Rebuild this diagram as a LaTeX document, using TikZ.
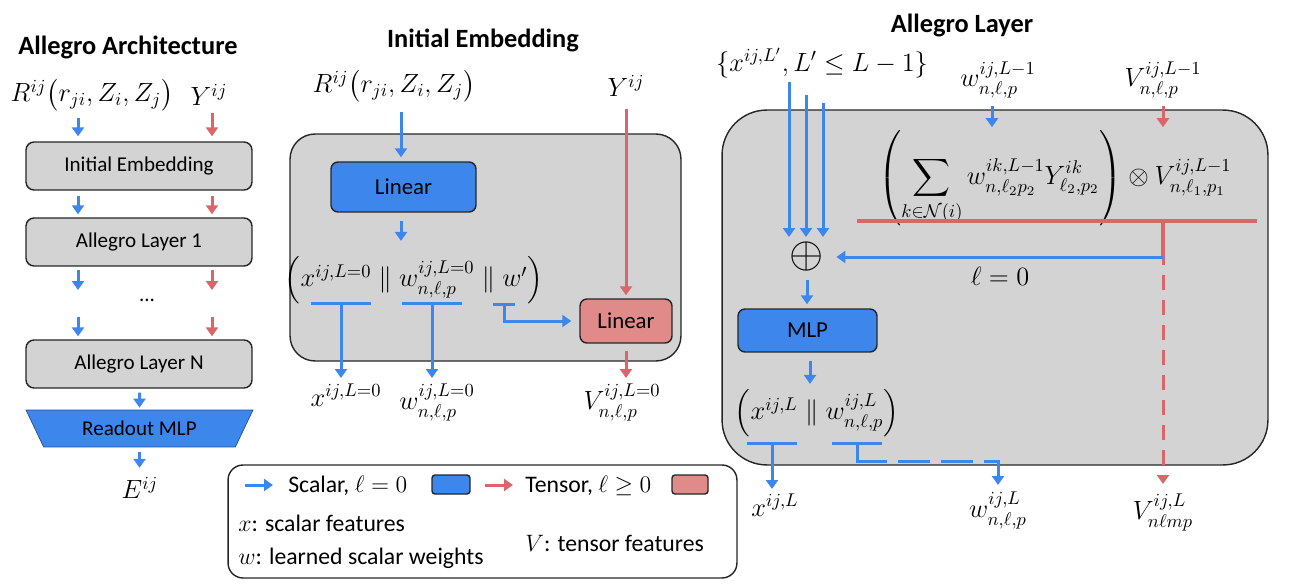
\RequirePackage{fix-cm}
\documentclass[tikz,border=0pt]{standalone}
\usepackage{amsmath,amssymb}
\usepackage{fontspec}
\setmainfont{Carlito}
\usetikzlibrary
  {
    arrows.meta,      % triangle arrow heads
    positioning,      % place nodes relative to other nodes
    shapes.geometric, % trapezium of the readout
  }

\definecolor{scalarblue}{HTML}{3D87EC}
\definecolor{tensorred}{HTML}{D9666A}
\definecolor{linearred}{HTML}{E08A8A}
\definecolor{blockgrey}{HTML}{D3D3D3}
\definecolor{edgegrey}{HTML}{262626}

\begin{document}
\begin{tikzpicture}
    [
      x=0.02cm, y=-0.02cm,
      every node/.style={inner sep=0pt},
      heading/.style={font=\fontsize{15}{18}\selectfont\bfseries},
      quantity/.style={font=\fontsize{15}{18}\selectfont},
      legendtext/.style={font=\fontsize{13.5}{16}\selectfont},
      stage/.style=
        {
          rectangle,
          rounded corners=0.16cm,
          minimum width=4.52cm,
          minimum height=0.96cm,
          draw=edgegrey,
          thick,
          fill=blockgrey,
          font=\fontsize{12}{14}\selectfont,
        },
      block/.style=
        {
          rectangle,
          rounded corners=0.5cm,
          draw=edgegrey,
          thick,
          fill=blockgrey,
        },
      scalarbox/.style=
        {
          rectangle,
          rounded corners=0.14cm,
          draw=edgegrey,
          thick,
          fill=scalarblue,
          font=\fontsize{13}{15}\selectfont,
        },
      tensorbox/.style=
        {
          rectangle,
          rounded corners=0.14cm,
          draw=edgegrey,
          thick,
          fill=linearred,
          font=\fontsize{13}{15}\selectfont,
        },
      readout/.style=
        {
          trapezium,
          trapezium angle=40,
          trapezium stretches body,
          shape border rotate=180,
          minimum width=4.54cm,
          minimum height=0.74cm,
          draw=scalarblue!60!black,
          fill=scalarblue,
          font=\fontsize{12}{14}\selectfont,
        },
      scalar/.style=
        {
          draw=scalarblue,
          line width=0.06cm,
          -{Triangle[length=0.18cm,width=0.24cm]},
        },
      tensor/.style=
        {
          draw=tensorred,
          line width=0.06cm,
          -{Triangle[length=0.18cm,width=0.24cm]},
        },
      scalarbar/.style={draw=scalarblue, line width=0.06cm},
      tensorbar/.style={draw=tensorred, line width=0.07cm},
    ]
    \useasboundingbox (0,0) rectangle (1299,588);

    % overall architecture
    \node (archtitle) [heading] at (128,47) {Allegro Architecture};
    \node (archr) [quantity] at (92,95) {$R^{ij}\bigl(r_{ji},Z_i,Z_j\bigr)$};
    \node (archy) [quantity] at (209,95) {$Y^{ij}$};
    \node (emb) [stage] at (139,166) {Initial Embedding};
    \node (lay1) [stage] at (139,242) {Allegro Layer 1};
    \node (dots) [font=\fontsize{12}{14}\selectfont] at (147,300) {...};
    \node (layN) [stage] at (139,364) {Allegro Layer N};
    \node (mlpout) [readout] at (139.5,428.5) {Readout MLP};
    \node (energy) [quantity] at (140,488) {$E^{ij}$};

    \coordinate (scol) at (78,0);
    \coordinate (tcol) at (212,0);
    \coordinate (dotrow) at (0,303);
    \draw [scalar, shorten <=0.14cm, shorten >=0.1cm] (archr.south -| scol) -- (emb.north -| scol);
    \draw [tensor, shorten <=0.14cm, shorten >=0.1cm] (archy.south -| tcol) -- (emb.north -| tcol);
    \draw [scalar, shorten <=0.1cm, shorten >=0.06cm] (emb.south -| scol) -- (lay1.north -| scol);
    \draw [tensor, shorten <=0.1cm, shorten >=0.06cm] (emb.south -| tcol) -- (lay1.north -| tcol);
    \draw [scalar, shorten <=0.06cm, shorten >=0.26cm] (lay1.south -| scol) -- (dotrow -| scol);
    \draw [tensor, shorten <=0.06cm, shorten >=0.26cm] (lay1.south -| tcol) -- (dotrow -| tcol);
    \draw [scalar, shorten <=0.28cm, shorten >=0.06cm] (dotrow -| scol) -- (layN.north -| scol);
    \draw [tensor, shorten <=0.28cm, shorten >=0.06cm] (dotrow -| tcol) -- (layN.north -| tcol);
    \draw [scalar, shorten <=0.08cm, shorten >=0.04cm] (layN.south -| mlpout) -- (mlpout.north);
    \draw [scalar, shorten <=0.1cm, shorten >=0.18cm] (mlpout.south) -- (mlpout.south |- energy.north);

    % initial embedding
    \node (embtitle) [heading] at (483,40) {Initial Embedding};
    \node (embbox) [block, minimum width=7.82cm, minimum height=4.54cm] at (485.5,247.5) {};
    \node (embr) [quantity] at (394,86) {$R^{ij}\bigl(r_{ji},Z_i,Z_j\bigr)$};
    \node (emby) [quantity] at (626,86) {$Y^{ij}$};
    \node (linscalar) [scalarbox, minimum width=2.9cm, minimum height=1cm] at (403.5,187) {Linear};
    \node (lintensor) [tensorbox, minimum width=1.84cm, minimum height=0.88cm] at (626,321) {Linear};
    \node (embtuple) [quantity] at (414,280)
      {$\left(x^{ij,L=0}\parallel w^{ij,L=0}_{n,\ell,p}\parallel w'\right)$};
    \node (embx) [quantity, anchor=north] at (346,384) {$x^{ij,L=0}$};
    \node (embw) [quantity, anchor=north] at (437,384) {$w^{ij,L=0}_{n,\ell,p}$};
    \node (embv) [quantity, anchor=north] at (622,384) {$V^{ij,L=0}_{n,\ell,p}$};

    \coordinate (rcol) at (401,0);
    \coordinate (embxbar) at (341,303);
    \coordinate (embwbar) at (432,303);
    \coordinate (embpbar) at (504,304);
    \draw [scalar, shorten <=0.2cm, shorten >=0.08cm] (embr.south -| rcol) -- (linscalar.north -| rcol);
    \draw [scalar, shorten <=0.16cm, shorten >=0.3cm] (linscalar.south -| rcol) -- (embtuple.north -| rcol);
    \draw [tensor, shorten <=0.24cm, shorten >=0.06cm] (emby.south -| lintensor) -- (lintensor.north);
    \draw [tensor, shorten <=0.14cm, shorten >=0.12cm] (lintensor.south) -- (embv.north -| lintensor);
    \draw [scalarbar] ([xshift=-0.6cm]embxbar) -- ([xshift=0.6cm]embxbar);
    \draw [scalarbar] ([xshift=-0.6cm]embwbar) -- ([xshift=0.6cm]embwbar);
    \draw [scalarbar] ([xshift=-0.22cm]embpbar) -- ([xshift=0.22cm]embpbar);
    \draw [scalar, shorten >=0.12cm] (embxbar) -- (embxbar |- embx.north);
    \draw [scalar, shorten >=0.12cm] (embwbar) -- (embwbar |- embw.north);
    \draw [scalar, shorten >=0.16cm] (embpbar) |- (lintensor.west);

    % allegro layer
    \node (laytitle) [heading] at (962,25) {Allegro Layer};
    \node (laybox) [block, rounded corners=0.9cm, minimum width=10.92cm, minimum height=7.1cm] at (995,287.5) {};
    \node (xset) [quantity] at (822,63) {$\{x^{ij,L'},L'\leq L-1\}$};
    \node (wprev) [quantity] at (998,80) {$w^{ij,L-1}_{n,\ell,p}$};
    \node (vprev) [quantity] at (1163,80) {$V^{ij,L-1}_{n,\ell,p}$};
    \node (product) [quantity] at (1055,178)
      {$\displaystyle\left(\sum_{k\in\mathcal{N}(i)} w^{ik,L-1}_{n,\ell_2p_2}Y^{ik}_{\ell_2,p_2}\right)\otimes V^{ij,L-1}_{n,\ell_1,p_1}$};
    \node (plus) at (807,257) {\fontsize{25}{25}\selectfont$\oplus$};
    \node (zerolabel) [quantity] at (1000,276) {$\ell=0$};
    \node (mlp) [scalarbox, minimum width=2.78cm, minimum height=0.86cm] at (807.5,330.5) {MLP};
    \node (laytuple) [quantity] at (817,413) {$\left(x^{ij,L}\parallel w^{ij,L}_{n,\ell,p}\right)$};
    \node (xout) [quantity, anchor=north] at (775,494) {$x^{ij,L}$};
    \node (wout) [quantity, anchor=north] at (998,492) {$w^{ij,L}_{n,\ell,p}$};
    \node (vout) [quantity, anchor=north] at (1163,494) {$V^{ij,L}_{n\ell mp}$};

    \coordinate (xin1) at (789,82);
    \coordinate (xin2) at (806,95);
    \coordinate (xin3) at (823,103);
    \coordinate (wcol) at (992,0);
    \coordinate (vcol) at (1163,0);
    \coordinate (vbar) at (1163,221);
    \coordinate (vsplit) at (1163,257);
    \coordinate (layxbar) at (772,443);
    \coordinate (laywbar) at (857,443);
    \coordinate (wturn) at (857,461);
    \draw [scalar, shorten >=0.1cm] (xin1) -- (xin1 |- plus.north);
    \draw [scalar, shorten >=0.1cm] (xin2) -- (xin2 |- plus.north);
    \draw [scalar, shorten >=0.1cm] (xin3) -- (xin3 |- plus.north);
    \draw [scalar, shorten <=0.14cm, shorten >=0.06cm] (wprev.south -| wcol) -- (product.north -| wcol);
    \draw [tensor, shorten <=0.14cm, shorten >=0.06cm] (vprev.south -| vcol) -- (product.north -| vcol);
    \draw [tensorbar] (857,221) -- (1257,221);
    \draw [tensorbar] (vbar) -- (vsplit);
    \draw [tensor, dash pattern=on 0.16cm off 0.2cm on 0.3cm off 0.2cm on 0.3cm off 0.2cm on 0.3cm off 0.2cm on 0.3cm off 0.2cm on 0.3cm off 0.2cm on 0.3cm off 0.2cm on 0.3cm off 0.2cm on 0.3cm off 0.2cm on 1cm off 0.2cm, shorten >=0.2cm] (vsplit) -- (vout.north);
    \draw [scalar, shorten >=0.24cm] (vsplit) -- (plus.east);
    \draw [scalar, shorten <=0.16cm, shorten >=0.08cm] (plus.south) -- (mlp.north -| plus);
    \draw [scalar, shorten <=0.16cm, shorten >=0.1cm] (mlp.south -| 810,0) -- (laytuple.north -| 810,0);
    \draw [scalarbar] ([xshift=-0.5cm]layxbar) -- ([xshift=0.5cm]layxbar);
    \draw [scalarbar] ([xshift=-0.5cm]laywbar) -- ([xshift=0.5cm]laywbar);
    \draw [scalar, shorten >=0.1cm] (layxbar) -- (layxbar |- xout.north);
    \draw [scalar, dash pattern=on 0.96cm off 0.22cm on 0.64cm off 0.22cm on 0.64cm off 0.22cm on 2cm off 0.1cm, shorten >=0.14cm] (laywbar) -- (wturn) -| (wout.north);

    % legend
    \node (legend) [rectangle, rounded corners=0.3cm, draw=edgegrey, thick, minimum width=10.18cm, minimum height=2.26cm] at (482.5,521.5) {};
    \node (scalartext) [legendtext, anchor=west] at (288,486) {Scalar, $\ell=0$};
    \node (scalarswatch) [scalarbox, rounded corners=0.06cm, minimum width=0.76cm, minimum height=0.38cm] at (451,484.5) {};
    \node (tensortext) [legendtext, anchor=west] at (525,486) {Tensor, $\ell\geq 0$};
    \node (tensorswatch) [tensorbox, rounded corners=0.06cm, minimum width=0.72cm, minimum height=0.38cm] at (690,484.5) {};
    \node (xkey) [legendtext, anchor=west] at (238,523) {$x$: scalar features};
    \node (wkey) [legendtext, anchor=west] at (238,558) {$w$: learned scalar weights};
    \node (vkey) [legendtext, anchor=west] at (525,543) {$V$: tensor features};
    \coordinate (scalarkey) at (245,485);
    \coordinate (tensorkey) at (485,485);
    \draw [scalar, shorten >=0.3cm] (scalarkey) -- (scalarkey -| scalartext.west);
    \draw [tensor, shorten >=0.24cm] (tensorkey) -- (tensorkey -| tensortext.west);
\end{tikzpicture}
\end{document}
